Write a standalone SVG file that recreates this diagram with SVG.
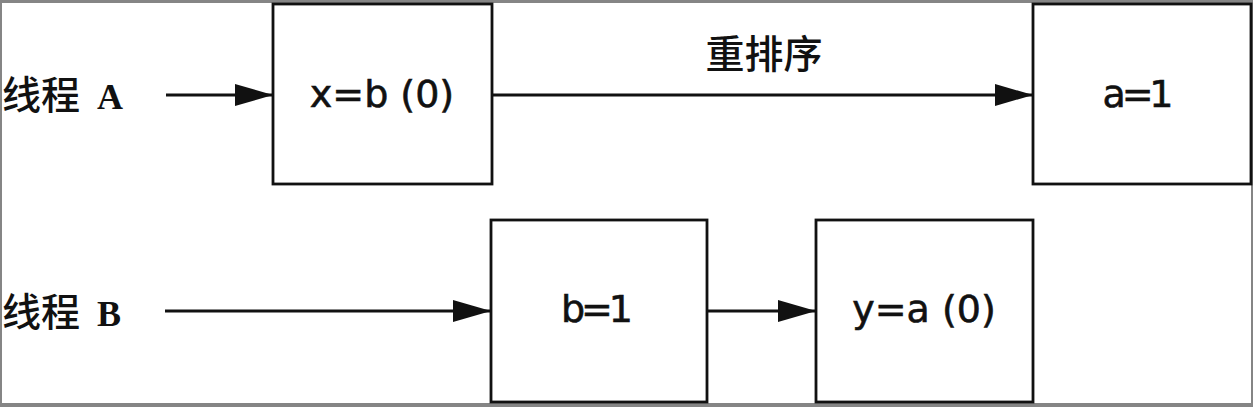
<svg xmlns="http://www.w3.org/2000/svg" width="1253" height="407" viewBox="0 0 1253 407">
<style>
.box{fill:#fff;stroke:#111;stroke-width:2.8}
.lbl{font-family:"DejaVu Sans","Liberation Sans",sans-serif;font-size:38px;fill:#111;stroke:#111;stroke-width:0.6;text-anchor:middle}
.cn{font-family:"Noto Sans CJK SC",sans-serif;font-size:39px;font-weight:500;fill:#111}
.lat{font-family:"Liberation Serif",serif;font-size:36px;font-weight:bold;fill:#111}
.conn{stroke:#111;stroke-width:2.8;fill:none;marker-end:url(#ah)}
</style>
<defs>
<marker id="ah" markerUnits="userSpaceOnUse" markerWidth="38" markerHeight="22" refX="38" refY="11" orient="auto">
<path d="M0,0 L38,11 L0,22 Z" fill="#111"/>
</marker>
</defs>
<rect x="0" y="0" width="1253" height="407" fill="#858585"/>
<rect x="2" y="3" width="1249" height="400" fill="#fff"/>
<g id="label-thread-a"><text class="cn" x="2" y="109">线程<tspan class="lat" dx="17">A</tspan></text></g>
<g id="label-thread-b"><text class="cn" x="2" y="326">线程<tspan class="lat" dx="17">B</tspan></text></g>
<g id="node-xb"><rect class="box" x="273" y="4" width="219" height="180"/><text class="lbl" x="382" y="107">x=b (0)</text></g>
<g id="node-a1"><rect class="box" x="1033" y="4" width="218" height="180"/><text class="lbl" x="1138" y="107" textLength="71">a=1</text></g>
<g id="node-b1"><rect class="box" x="491" y="220" width="216" height="182"/><text class="lbl" x="597" y="322" textLength="72">b=1</text></g>
<g id="node-ya"><rect class="box" x="816" y="220" width="217" height="182"/><text class="lbl" x="924" y="322">y=a (0)</text></g>
<g id="connectors">
<line class="conn" x1="166" y1="95" x2="273" y2="95"/>
<line class="conn" x1="492" y1="95" x2="1033" y2="95"/>
<line class="conn" x1="165" y1="311" x2="491" y2="311"/>
<line class="conn" x1="707" y1="311" x2="816" y2="311"/>
<text class="cn" x="764" y="68" text-anchor="middle">重排序</text>
</g>
</svg>
